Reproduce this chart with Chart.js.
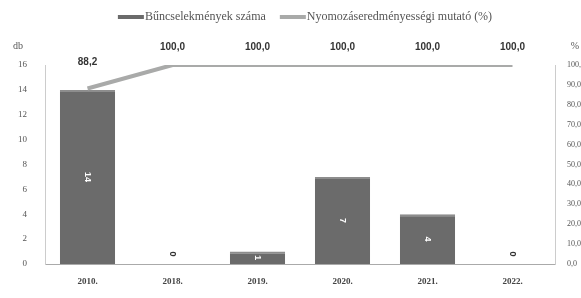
<!DOCTYPE html>
<html><head><meta charset="utf-8">
<script src="https://cdn.jsdelivr.net/npm/chart.js@4/dist/chart.umd.min.js"></script>
<style>html,body{margin:0;padding:0;background:#fff}#wrap{width:581px;height:298px}</style>
</head><body><div id="wrap"><canvas id="c" width="581" height="298"></canvas></div>
<script>
const categories = ['2010.', '2018.', '2019.', '2020.', '2021.', '2022.'];
const crimeCounts = [14, 0, 1, 7, 4, 0];
const clearanceRate = [88.2, 100, 100, 100, 100, 100];
const leftTicks = [0, 2, 4, 6, 8, 10, 12, 14, 16];
const rightTicks = [0, 10, 20, 30, 40, 50, 60, 70, 80, 90, 100];
const seriesNames = ['Bűncselekmények száma', 'Nyomozáseredményességi mutató (%)'];
const axisTitles = ['db', '%'];

const fmt = v => v.toFixed(1).replace('.', ',');
const barColor = '#6b6b6b';
const lineColor = '#a9aaa9';

const labelsPlugin = {
  id: 'labels',
  afterDatasetsDraw(chart) {
    const ctx = chart.ctx;
    const barMeta = chart.getDatasetMeta(0);
    const lineMeta = chart.getDatasetMeta(1);
    ctx.save();
    barMeta.data.forEach((bar, i) => {
      const v = crimeCounts[i];
      ctx.save();
      let y;
      if (v === 0) { y = bar.base - 10; ctx.fillStyle = '#333'; }
      else { y = (bar.y + bar.base) / 2; ctx.fillStyle = '#fff'; }
      ctx.translate(bar.x, y);
      ctx.rotate(Math.PI / 2);
      ctx.font = 'bold 9px "Liberation Sans"';
      ctx.textAlign = 'center';
      ctx.textBaseline = 'middle';
      ctx.fillText(String(v), 0, 0);
      ctx.restore();
    });
    ctx.font = 'bold 10px "Liberation Sans"';
    ctx.fillStyle = '#333';
    ctx.textAlign = 'center';
    ctx.textBaseline = 'middle';
    lineMeta.data.forEach((pt, i) => {
      ctx.fillText(fmt(clearanceRate[i]), pt.x, pt.y - (i === 0 ? 26 : 18));
    });
    ctx.font = '10px "Liberation Serif"';
    ctx.fillStyle = '#555';
    ctx.textAlign = 'left';
    ctx.fillText(axisTitles[0], 13, 46);
    ctx.textAlign = 'right';
    ctx.fillText(axisTitles[1], 579, 46);
    // legend
    ctx.font = '12px "Liberation Serif"';
    ctx.textAlign = 'left';
    ctx.textBaseline = 'middle';
    const colors = [barColor, lineColor];
    const boxW = 26, gap = 1, itemGap = 14, ly = 17;
    const widths = seriesNames.map(n => boxW + gap + ctx.measureText(n).width);
    const total = widths[0] + widths[1] + itemGap;
    let x = 305 - total / 2;
    seriesNames.forEach((n, i) => {
      ctx.fillStyle = colors[i];
      ctx.fillRect(x, ly - 2, boxW, 4);
      ctx.fillStyle = '#555';
      ctx.fillText(n, x + boxW + gap, ly);
      x += widths[i] + itemGap;
    });
    ctx.restore();
  }
};

new Chart(document.getElementById('c'), {
  data: {
    labels: categories,
    datasets: [
      { type: 'bar', label: seriesNames[0], data: crimeCounts, yAxisID: 'y',
        backgroundColor: barColor, borderColor: '#8d8d8d', borderWidth: {top: 2, left: 0, right: 0, bottom: 0},
        barPercentage: 0.65, categoryPercentage: 1.0, order: 2 },
      { type: 'line', label: seriesNames[1], data: clearanceRate, yAxisID: 'y1',
        borderColor: lineColor, backgroundColor: lineColor, borderWidth: 4, pointRadius: 0, tension: 0, order: 1 }
    ]
  },
  options: {
    responsive: false, animation: false,
    layout: { padding: { left: 14, right: 0, top: 65, bottom: 14 } },
    plugins: { legend: { display: false }, tooltip: { enabled: false } },
    scales: {
      x: { grid: { display: false }, border: { display: true, color: '#aaa', dash: [2, 2] },
        ticks: { font: { family: 'Liberation Serif', size: 9, weight: 'bold' }, color: '#444', padding: 4 },
        afterFit(s) { s.height = 20; } },
      y: { position: 'left', min: 0, max: 16, grid: { display: false },
        border: { display: true, color: '#ccc', dash: [2, 2] },
        afterBuildTicks(s) { s.ticks = leftTicks.map(v => ({ value: v })); },
        ticks: { font: { family: 'Liberation Serif', size: 9 }, color: '#555', padding: 10 },
        afterFit(s) { s.width = 31; } },
      y1: { position: 'right', min: 0, max: 100, grid: { display: false },
        border: { display: true, color: '#ccc', dash: [2, 2] },
        afterBuildTicks(s) { s.ticks = rightTicks.map(v => ({ value: v })); },
        ticks: { font: { family: 'Liberation Serif', size: 8 }, color: '#555', padding: 4, callback: v => fmt(v) },
        afterFit(s) { s.width = 26; } }
    }
  },
  plugins: [labelsPlugin]
});
</script>
</body></html>
